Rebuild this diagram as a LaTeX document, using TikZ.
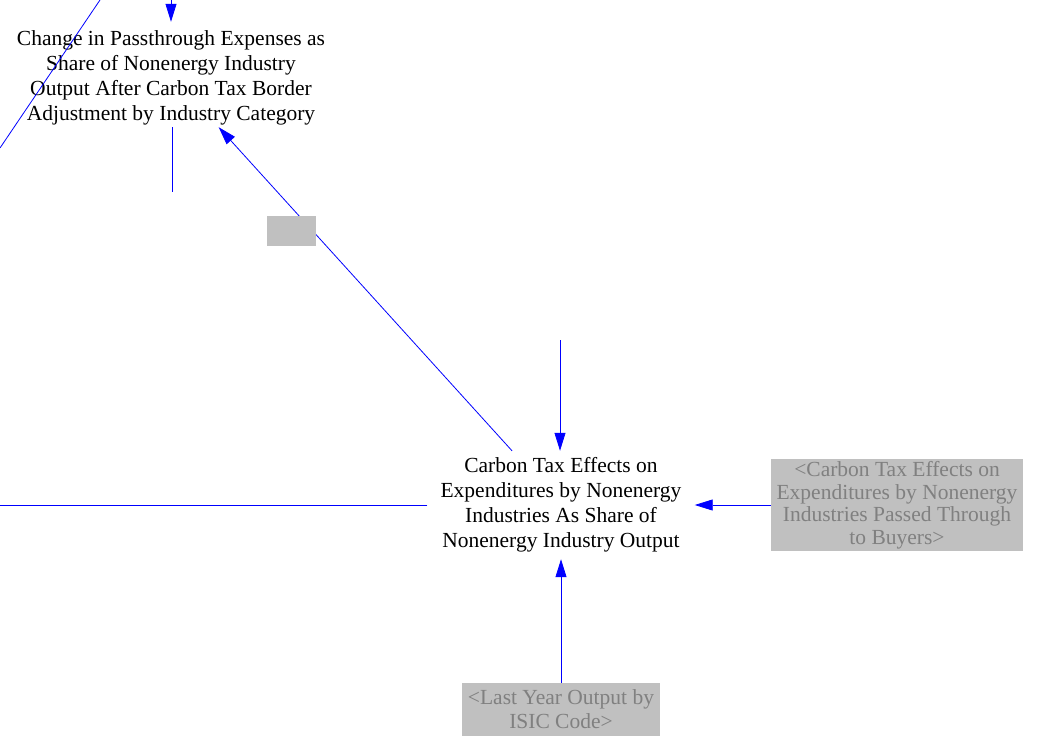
\documentclass[tikz,border=0pt]{standalone}
\usepackage{fontspec}
\setmainfont{Liberation Serif}
\usetikzlibrary{arrows.meta}
\definecolor{shadowfill}{HTML}{C0C0C0}
\definecolor{shadowtext}{HTML}{808080}
\tikzset {
    x=1pt, y=-1pt,
    >={Triangle[length=18pt,width=11pt]},
    link/.style={draw=blue, line width=0.8pt},
    every node/.style={font=\fontsize{21.5}{25}\selectfont, align=center, inner sep=0pt},
    shadow/.style={fill=shadowfill, text=shadowtext}
}
\begin{document}
\begin{tikzpicture}
                        \useasboundingbox (0,0) rectangle (1048,751);
                        \node[minimum width=320, minimum height=105] (chg) at (171,74.5) {\rule{0pt}{21pt}Change in Passthrough Expenses as\\Share of Nonenergy Industry\\Output After Carbon Tax Border\\Adjustment by Industry Category};
                        \node[minimum width=267, minimum height=108] (cte) at (561,505) {Carbon Tax Effects on\\Expenditures by Nonenergy\\Industries As Share of\\Nonenergy Industry Output};
                        \node[shadow, minimum width=252, minimum height=92, font=\fontsize{21.5}{22.5}\selectfont] (ctp) at (897,505) {<Carbon Tax Effects on\\Expenditures by Nonenergy\\Industries Passed Through\\to Buyers>};
                        \node[shadow, minimum width=198, minimum height=53, font=\fontsize{21.5}{24}\selectfont] (lyo) at (561,709.5) {<Last Year Output by\\ISIC Code>};

                        \coordinate (a0) at (171,0);
                        \coordinate (a1) at (560,340);
                        \coordinate (b0) at (100,0);
                        \coordinate (b1) at (0,148);
                        \coordinate (c0) at (172,192);
                        \coordinate (d0) at (0,505);

                        \draw[link, ->] (a0) -- (chg);
                        \draw[link, ->] (cte) -- (chg);
                        \node[shadow, minimum width=49, minimum height=30] (valve) at (291.5,231) {};
                        \draw[link, ->] (a1) -- (a1 |- cte.north);
                        \draw[link, ->] (ctp) -- (cte);
                        \draw[link, ->] (lyo) -- (cte);
                        \draw[link] (cte) -- (d0);
                        \draw[link] (chg.south -| c0) -- (c0);
                        \draw[link] (b0) -- (b1);

                    \end{tikzpicture}
\end{document}
